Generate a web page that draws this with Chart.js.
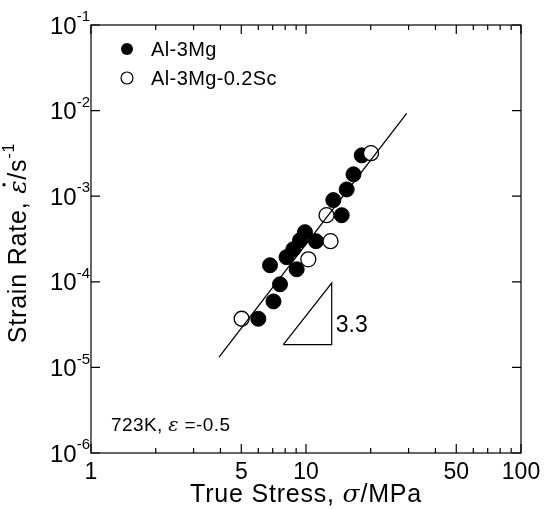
<!DOCTYPE html>
<html>
<head>
<meta charset="utf-8">
<script src="https://cdn.jsdelivr.net/npm/chart.js@4.4.1/dist/chart.umd.min.js"></script>
<style>
  html, body { margin: 0; padding: 0; background: #fff; }
  #wrap { width: 546px; height: 509px; }
</style>
</head>
<body>
<div id="wrap"><canvas id="creepChart" width="546" height="509"></canvas></div>
<script>
// values
const stressMg = [18.16, 16.63, 15.46, 13.40, 14.66, 9.89, 9.38, 11.13, 8.73, 8.12, 6.80, 9.05, 7.57, 7.06, 6.00];
const rateMg = [3.0e-3, 1.8e-3, 1.2e-3, 9.0e-4, 6.0e-4, 3.8e-4, 3.06e-4, 2.98e-4, 2.4e-4, 1.94e-4, 1.56e-4, 1.4e-4, 9.35e-5, 5.9e-5, 3.7e-5];
const stressSc = [20.06, 12.46, 13.0, 10.25, 5.02];
const rateSc = [3.18e-3, 6.0e-4, 2.98e-4, 1.83e-4, 3.7e-5];
const fitStress = [3.94, 29.4];
const fitRate = [1.32e-5, 9.27e-3];
const triStress = [7.84, 13.17, 13.17, 7.84];
const triRate = [1.845e-5, 1.845e-5, 9.68e-5, 1.845e-5];
const xTickLabels = [1, 5, 10, 50, 100];
const xMinorTicks = [2, 3, 4, 6, 7, 8, 9, 20, 30, 40, 60, 70, 80, 90];
const yExponents = [-1, -2, -3, -4, -5, -6];
const seriesNames = ['Al-3Mg', 'Al-3Mg-0.2Sc'];

const pts = (xs, ys) => xs.map((x, i) => ({ x: x, y: ys[i] }));
const FONT = '"Liberation Sans", Arial, sans-serif';
const GREEK = '"DejaVu Serif", serif';

function rich(ctx, parts, x, y, align, spacing) {
    // parts: [text, font, dy]
    ctx.letterSpacing = (spacing || 0) + 'px';
    let total = 0;
    parts.forEach(p => { ctx.font = p[1]; total += ctx.measureText(p[0]).width; });
    let cx = align === 'center' ? x - total / 2 : (align === 'right' ? x - total : x);
    parts.forEach(p => {
        ctx.font = p[1];
        ctx.fillText(p[0], cx, y + (p[2] || 0));
        cx += ctx.measureText(p[0]).width;
    });
    ctx.letterSpacing = '0px';
    return total;
}

const frame = {
    id: 'frame',
    afterDatasetsDraw(chart) {
        const ctx = chart.ctx;
        const xs = chart.scales.x, ys = chart.scales.y;
        const a = chart.chartArea;
        ctx.save();
        ctx.strokeStyle = '#000';
        ctx.fillStyle = '#000';
        ctx.lineWidth = 1.2;
        ctx.strokeRect(a.left, a.top, a.right - a.left, a.bottom - a.top);

        // x ticks, inside on bottom and top
        const tick = (px, len) => {
            ctx.beginPath();
            ctx.moveTo(px, a.bottom); ctx.lineTo(px, a.bottom - len);
            ctx.moveTo(px, a.top); ctx.lineTo(px, a.top + len);
            ctx.stroke();
        };
        xTickLabels.forEach(v => tick(xs.getPixelForValue(v), 9));
        xMinorTicks.forEach(v => tick(xs.getPixelForValue(v), 5));
        // y ticks, inside on left and right
        yExponents.forEach(e => {
            const py = ys.getPixelForValue(Math.pow(10, e));
            ctx.beginPath();
            ctx.moveTo(a.left, py); ctx.lineTo(a.left + 9, py);
            ctx.moveTo(a.right, py); ctx.lineTo(a.right - 9, py);
            ctx.stroke();
        });

        // tick labels
        ctx.textBaseline = 'middle';
        ctx.textAlign = 'left';
        xTickLabels.forEach(v => {
            rich(ctx, [[String(v), '23px ' + FONT]], xs.getPixelForValue(v), a.bottom + 20, 'center');
        });
        yExponents.forEach(e => {
            const py = ys.getPixelForValue(Math.pow(10, e));
            rich(ctx, [['10', '24px ' + FONT, 2], [String(e), '15px ' + FONT, -8]], a.left - 1, py, 'right');
        });

        // axis titles
        const mid = (a.left + a.right) / 2;
        rich(ctx, [['True Stress, ', '25px ' + FONT], ['\u03C3', 'italic 25px ' + GREEK], ['/MPa', '25px ' + FONT]], mid, a.bottom + 42, 'center', 0.8);

        ctx.save();
        ctx.translate(19, (a.top + a.bottom) / 2 + 4);
        ctx.rotate(-Math.PI / 2);
        ctx.letterSpacing = '0.8px';
        const yParts = [['Strain Rate, ', '25px ' + FONT], ['\u03B5', 'italic 25px ' + GREEK], ['/s', '25px ' + FONT], ['-1', '16px ' + FONT, -9]];
        let tot = 0;
        yParts.forEach(p => { ctx.font = p[1]; tot += ctx.measureText(p[0]).width; });
        ctx.font = yParts[0][1];
        const epsX = -tot / 2 + ctx.measureText(yParts[0][0]).width;
        ctx.font = yParts[1][1];
        const ew = ctx.measureText('\u03B5').width;
        ctx.letterSpacing = '0px';
        rich(ctx, yParts, 0, 0, 'center', 0.8);
        ctx.beginPath();
        ctx.arc(epsX + ew / 2 + 2, -15, 1.7, 0, Math.PI * 2);
        ctx.fill();
        ctx.restore();

        // legend
        const lx = a.left + 36;
        [49, 78].forEach((ly, i) => {
            ctx.beginPath();
            ctx.arc(lx, ly, 6, 0, Math.PI * 2);
            if (i === 0) { ctx.fill(); } else { ctx.fillStyle = '#fff'; ctx.fill(); ctx.fillStyle = '#000'; ctx.stroke(); }
            rich(ctx, [[seriesNames[i], '20px ' + FONT]], lx + 24, ly + 1, 'left', 0.4);
        });

        // annotations
        rich(ctx, [['723K, ', '19px ' + FONT], ['\u03B5', 'italic 19px ' + GREEK], [' =-0.5', '19px ' + FONT]], a.left + 20, a.bottom - 27, 'left', 0.4);
        rich(ctx, [['3.3', '23px ' + FONT]], xs.getPixelForValue(13.17) + 4, ys.getPixelForValue(3.1e-5), 'left');
        ctx.restore();
    }
};

new Chart(document.getElementById('creepChart'), {
    type: 'scatter',
    data: {
        datasets: [
            {
                label: 'fit',
                type: 'line',
                data: pts(fitStress, fitRate),
                borderColor: '#000',
                borderWidth: 1.3,
                pointRadius: 0,
                fill: false,
                order: 0
            },
            {
                label: 'slope',
                type: 'line',
                data: pts(triStress, triRate),
                borderColor: '#000',
                borderWidth: 1.2,
                pointRadius: 0,
                fill: false,
                tension: 0,
                order: 0
            },
            {
                label: seriesNames[1],
                data: pts(stressSc, rateSc),
                pointRadius: 7.5,
                pointBackgroundColor: '#fff',
                pointBorderColor: '#000',
                pointBorderWidth: 1.3,
                order: 1
            },
            {
                label: seriesNames[0],
                data: pts(stressMg, rateMg),
                pointRadius: 7.5,
                pointBackgroundColor: '#000',
                pointBorderColor: '#000',
                pointBorderWidth: 1,
                order: 2
            }
        ]
    },
    options: {
        responsive: false,
        animation: false,
        devicePixelRatio: 1,
        layout: { padding: { top: 25, right: 25, left: 0, bottom: 0 } },
        plugins: { legend: { display: false }, tooltip: { enabled: false } },
        scales: {
            x: {
                type: 'logarithmic', min: 1, max: 100,
                grid: { display: false }, border: { display: false },
                ticks: { display: false },
                afterFit(s) { s.height = 56; }
            },
            y: {
                type: 'logarithmic', min: 1e-6, max: 1e-1,
                grid: { display: false }, border: { display: false },
                ticks: { display: false },
                afterFit(s) { s.width = 91; }
            }
        }
    },
    plugins: [frame]
});
</script>
</body>
</html>
